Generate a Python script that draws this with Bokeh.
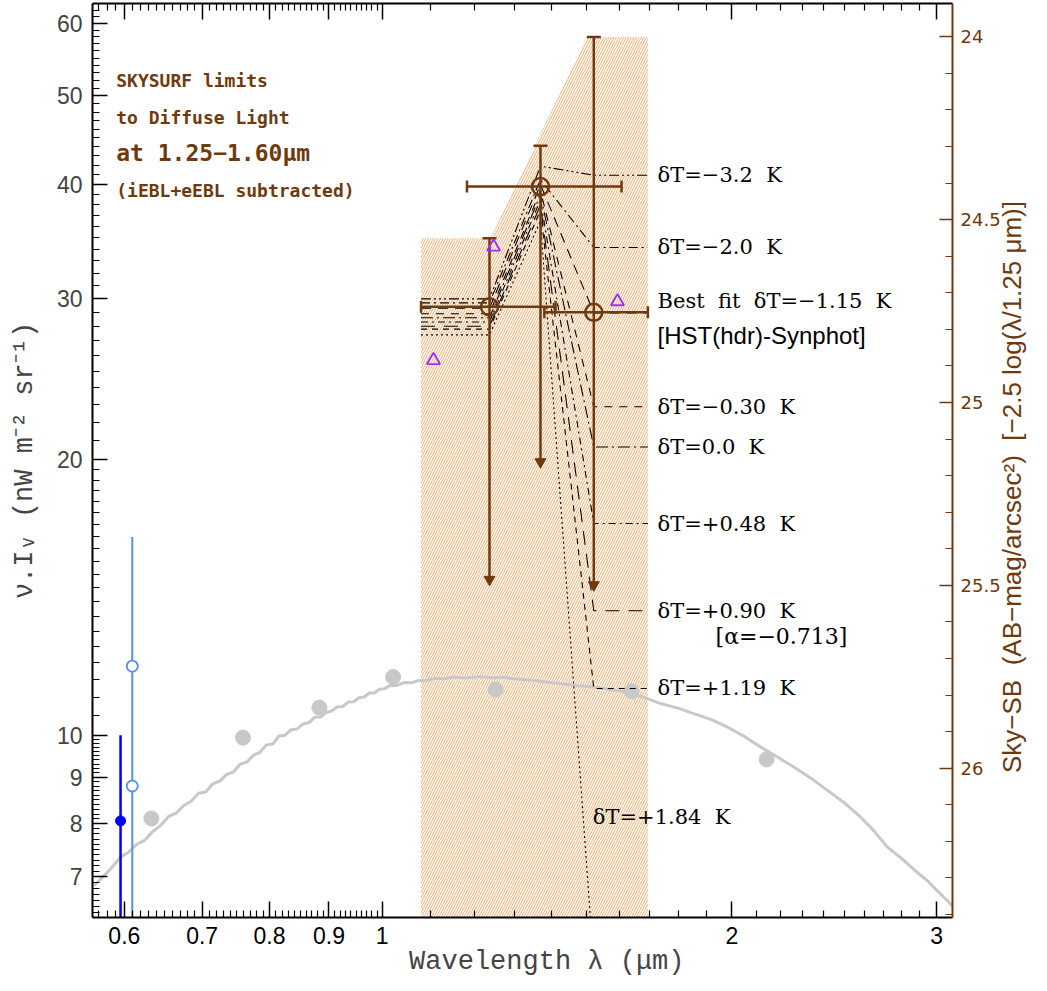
import numpy as np
from bokeh.plotting import figure
from bokeh.models import (ColumnDataSource, Range1d, LinearAxis, LogAxis, FixedTicker,
                          NumeralTickFormatter, LinearScale, CustomJSTickFormatter)
from bokeh.core.properties import value
from bokeh.embed import file_html
from bokeh.resources import INLINE

# ---------------- data ----------------
# zodiacal-light-like model spectrum (grey)
spec_lam = [0.565, 0.575, 0.585, 0.595, 0.605, 0.615, 0.625, 0.635, 0.645, 0.655, 0.665, 0.675,
            0.685, 0.695, 0.705, 0.715, 0.725, 0.735, 0.745, 0.755, 0.765, 0.775, 0.785, 0.795,
            0.805, 0.815, 0.825, 0.835, 0.845, 0.855, 0.865, 0.875, 0.885, 0.895, 0.905, 0.915,
            0.925, 0.935, 0.945, 0.955, 0.965, 0.975, 0.985, 0.995, 1.005, 1.015, 1.03, 1.045,
            1.06, 1.075, 1.09, 1.11, 1.13, 1.15, 1.18, 1.21, 1.24, 1.27, 1.30, 1.33, 1.36, 1.39,
            1.42, 1.47, 1.52, 1.57, 1.625, 1.68, 1.736, 1.80, 1.854, 1.92, 1.981, 2.05, 2.116,
            2.19, 2.261, 2.34, 2.415, 2.50, 2.58, 2.65, 2.72, 2.80, 2.88, 2.95, 3.0, 3.07, 3.133]
spec_val = [6.85, 7.00, 7.16, 7.35, 7.45, 7.60, 7.68, 7.85, 7.97, 8.15, 8.22, 8.38,
            8.47, 8.64, 8.67, 8.85, 8.91, 9.06, 9.12, 9.30, 9.35, 9.51, 9.58, 9.76,
            9.78, 9.98, 10.00, 10.14, 10.16, 10.29, 10.32, 10.46, 10.47, 10.59, 10.63, 10.74,
            10.75, 10.87, 10.88, 10.99, 11.01, 11.12, 11.12, 11.23, 11.24, 11.33, 11.34, 11.42,
            11.41, 11.48, 11.47, 11.54, 11.52, 11.58, 11.55, 11.59, 11.56, 11.57, 11.53, 11.50, 11.47, 11.43,
            11.39, 11.33, 11.29, 11.22, 11.15, 11.00, 10.83, 10.70, 10.56, 10.40, 10.21, 9.97, 9.71,
            9.46, 9.23, 8.97, 8.71, 8.43, 8.14, 7.86, 7.55, 7.33, 7.10, 6.92, 6.77, 6.58, 6.39]

# grey broadband points
dot_lam = [0.633, 0.759, 0.883, 1.022, 1.252, 1.639, 2.142]
dot_val = [8.11, 9.94, 10.72, 11.58, 11.22, 11.17, 9.41]

# SKYSURF limits (brown)
sky_lam = [1.237, 1.3685, 1.521]
sky_val = [29.4, 39.8, 29.0]
sky_lo_lam = [1.080, 1.183, 1.379]
sky_hi_lam = [1.410, 1.607, 1.693]
sky_top = [34.95, 44.1, 58.0]
sky_arrow = [14.8, 19.9, 14.6]

# hatched allowed region
region_lam = [1.080, 1.240, 1.500, 1.693, 1.693, 1.080]
region_val = [34.95, 34.95, 58.0, 58.0, 6.0, 6.0]

# purple triangles
tri_lam = [1.107, 1.247, 1.594]
tri_val = [25.7, 34.2, 29.8]

# blue points
blue_lam = [0.5955]
blue_val = [8.06]
blue_top = [10.0]
blue_bot = [5.0]
lblue_lam = [0.6095, 0.6095]
lblue_val = [11.9, 8.8]
lblue_top = [16.47]
lblue_bot = [5.0]

# thermal-model curves
NB = "\u00a0"
model_label = ["δT=−3.2" + NB + " K", "δT=−2.0" + NB + " K",
               "Best" + NB + " fit" + NB + " δT=−1.15" + NB + " K",
               "δT=−0.30" + NB + " K", "δT=0.0" + NB + " K", "δT=+0.48" + NB + " K",
               "δT=+0.90" + NB + " K", "δT=+1.19" + NB + " K", "δT=+1.84" + NB + " K"]
model_left = [30.0, 29.7, 29.3, 28.9, 28.6, 28.3, 28.0, 27.8, 27.4]
model_peak = [41.9, 40.5, 40.0, 39.4, 39.0, 38.5, 38.0, 37.5, 36.5]
model_right = [40.95, 34.14, 28.96, 22.86, 20.66, 17.04, 13.68, 11.25, 5.6]
label_lam = [1.726, 1.726, 1.726, 1.726, 1.726, 1.726, 1.726, 1.726, 1.518]
label_val = [40.95, 34.14, 29.85, 22.86, 20.66, 17.04, 13.68, 11.25, 8.14]

extra_text = ["[HST(hdr)-Synphot]", "[α=−0.713]"]
extra_lam = [1.726, 1.936]
extra_val = [27.33, 12.81]

title_text = ["SKYSURF limits", "to Diffuse Light", "at 1.25−1.60μm", "(iEBL+eEBL subtracted)"]
title_lam = [0.5904, 0.5904, 0.5904, 0.5904]
title_val = [52.0, 47.4, 43.3, 39.4]

x_major = [0.6, 0.7, 0.8, 0.9, 1, 2, 3]
y_major = [7, 8, 9, 10, 20, 30, 40, 50, 60]
mag_major = [24, 24.5, 25, 25.5, 26]
right_title = "Sky−SB" + NB + " (AB−mag/arcsec²)" + NB + " [−2.5 log(λ/1.25 μm)]"

# ---------------- styles ----------------
BROWN = "#6E3A0E"
GREY = "#C8C8C8"
HATCH = "#F4A25C"
dashes = ["10 3 2 3 2 3 2 3", "9 4 2 4", "10 7", "8 7", "12 4 2 4", "7 4 2 4", "14 9", "6 5", "2 3"]

x_minor = sorted(set(np.round(np.arange(0.56, 1.0, 0.01), 2).tolist()
                     + np.round(np.arange(1.1, 3.1, 0.1), 1).tolist()) - set(x_major))
y_minor = sorted(set(np.round(np.arange(6.4, 10.0, 0.1), 1).tolist()
                     + np.round(np.arange(10.5, 20.0, 0.5), 1).tolist()
                     + list(range(21, 63))) - set(y_major))
mag_minor = [round(v, 1) for v in np.arange(23.9, 26.45, 0.1) if round(v, 1) not in mag_major]

p = figure(width=1047, height=991, x_axis_type="log", y_axis_type="log",
           x_range=Range1d(0.5633, 3.096), y_range=Range1d(6.32, 63.1),
           output_backend="svg", toolbar_location=None,
           min_border_left=92, min_border_right=95, min_border_top=3, min_border_bottom=74)
p.xgrid.visible = False
p.ygrid.visible = False
p.outline_line_color = None
p.background_fill_color = "white"
p.border_fill_color = "white"

def style_axis(ax, color, major_in, minor_in):
    ax.axis_line_color = color
    ax.axis_line_width = 2
    ax.major_tick_line_color = color
    ax.minor_tick_line_color = color
    ax.major_tick_line_width = 1.5
    ax.minor_tick_line_width = 1.2
    ax.major_tick_in = major_in
    ax.major_tick_out = 0
    ax.minor_tick_in = minor_in
    ax.minor_tick_out = 0

xa = p.xaxis[0]
xa.ticker = FixedTicker(ticks=x_major, minor_ticks=x_minor)
xa.formatter = NumeralTickFormatter(format="0[.]0")
style_axis(xa, "black", 16, 7)
xa.major_label_text_font = "Liberation Sans"
xa.major_label_text_font_size = "23px"
xa.major_label_text_color = "black"
xa.major_label_standoff = 9
xa.axis_label = NB * 3 + "Wavelength λ (μm)"
xa.axis_label_text_font = "Liberation Mono"
xa.axis_label_text_font_size = "27px"
xa.axis_label_text_font_style = "normal"
xa.axis_label_standoff = 0

ya = p.yaxis[0]
ya.ticker = FixedTicker(ticks=y_major, minor_ticks=y_minor)
ya.formatter = NumeralTickFormatter(format="0[.]0")
style_axis(ya, "black", 15, 7)
ya.major_label_text_font = "Liberation Sans"
ya.major_label_text_font_size = "23px"
ya.major_label_standoff = 10
ya.axis_label = "ν.Iᵥ (nW m⁻² sr⁻¹)"
ya.axis_label_text_font = "Liberation Mono"
ya.axis_label_text_font_size = "27px"
ya.axis_label_text_font_style = "normal"
ya.axis_label_standoff = 14

top = LogAxis(ticker=FixedTicker(ticks=x_major, minor_ticks=x_minor),
              formatter=CustomJSTickFormatter(code="return ''"),
              major_label_text_font_size="0px", major_label_standoff=0)
style_axis(top, "black", 16, 7)
p.add_layout(top, "above")

p.extra_y_ranges = {"mag": Range1d(start=26.408, end=23.909)}
p.extra_y_scales = {"mag": LinearScale()}
ra = LinearAxis(y_range_name="mag", ticker=FixedTicker(ticks=mag_major, minor_ticks=mag_minor),
                formatter=NumeralTickFormatter(format="0[.]0"))
style_axis(ra, BROWN, 13, 7)
ra.major_label_text_font = "DejaVu Sans"
ra.major_label_text_font_size = "18px"
ra.major_label_text_color = BROWN
ra.major_label_standoff = 8
ra.axis_label = NB * 20 + right_title
ra.axis_label_text_font = "Liberation Sans"
ra.axis_label_text_font_size = "26px"
ra.axis_label_text_font_style = "normal"
ra.axis_label_text_color = BROWN
ra.axis_label_standoff = 8
ra.axis_label_align = "end"
try:
    ra.axis_label_orientation = np.pi / 2
except Exception:
    pass
p.add_layout(ra, "right")

# hatched region
p.patch(region_lam, region_val, fill_color=None, line_color=None,
        hatch_pattern="/", hatch_color=HATCH, hatch_scale=5, hatch_weight=0.9)

# grey spectrum and points
p.line(spec_lam, spec_val, line_color=GREY, line_width=3)
p.scatter(dot_lam, dot_val, size=15, color=GREY)

# model curves
for i in range(len(model_left)):
    xs = [region_lam[0], sky_lam[0], sky_lam[1], sky_lam[2], region_lam[3]]
    ys = [model_left[i], model_left[i], model_peak[i], model_right[i], model_right[i]]
    p.line(xs, ys, line_color="black", line_width=1.1, line_dash=dashes[i])

# SKYSURF limits
src = ColumnDataSource(dict(x=sky_lam, y=sky_val, lo=sky_lo_lam, hi=sky_hi_lam,
                            top=sky_top, arr=sky_arrow))
p.segment(x0="x", y0="top", x1="x", y1="arr", source=src, line_color=BROWN, line_width=2.5)
p.segment(x0="lo", y0="y", x1="hi", y1="y", source=src, line_color=BROWN, line_width=2.5)
p.scatter(x="x", y="top", source=src, marker="dash", size=14, line_color=BROWN, line_width=2.5)
p.scatter(x="lo", y="y", source=src, marker="dash", angle=np.pi / 2, size=12,
          line_color=BROWN, line_width=2.5)
p.scatter(x="hi", y="y", source=src, marker="dash", angle=np.pi / 2, size=12,
          line_color=BROWN, line_width=2.5)
p.scatter(x="x", y="arr", source=src, marker="inverted_triangle", size=11,
          fill_color=BROWN, line_color=BROWN)
p.scatter(x="x", y="y", source=src, marker="circle", size=17, fill_color=None,
          line_color=BROWN, line_width=2.5)

# purple triangles
p.scatter(tri_lam, tri_val, marker="triangle", size=13, fill_color=None,
          line_color="#9B30FF", line_width=1.8)

# blue points
p.segment(x0=blue_lam, y0=blue_top, x1=blue_lam, y1=blue_bot, line_color="#0000FF", line_width=2.5)
p.scatter(blue_lam, blue_val, size=10, color="#0000FF")
p.segment(x0=lblue_lam[:1], y0=lblue_top, x1=lblue_lam[:1], y1=lblue_bot,
          line_color="#5A8EEE", line_width=2)
p.scatter(lblue_lam, lblue_val, size=11, fill_color="white", line_color="#5A8EEE", line_width=1.8)

# labels
p.text(x=label_lam, y=label_val, text=model_label, text_font=value("DejaVu Serif"),
       text_font_size="21px", text_baseline="middle", text_align="left", text_color="black")
p.text(x=extra_lam[:1], y=extra_val[:1], text=extra_text[:1], text_font=value("Liberation Sans"),
       text_font_size="24px", text_baseline="middle", text_align="left", text_color="black")
p.text(x=extra_lam[1:], y=extra_val[1:], text=extra_text[1:], text_font=value("DejaVu Serif"),
       text_font_size="22px", text_baseline="middle", text_align="left", text_color="black")
sizes = ["18px", "18px", "23px", "18px"]
for t, xv, yv, s in zip(title_text, title_lam, title_val, sizes):
    p.text(x=[xv], y=[yv], text=[t], text_font=value("DejaVu Sans Mono"), text_font_size=s,
           text_font_style="bold", text_baseline="middle", text_align="left", text_color=BROWN)

open("out.html", "w").write(file_html(p, INLINE))
